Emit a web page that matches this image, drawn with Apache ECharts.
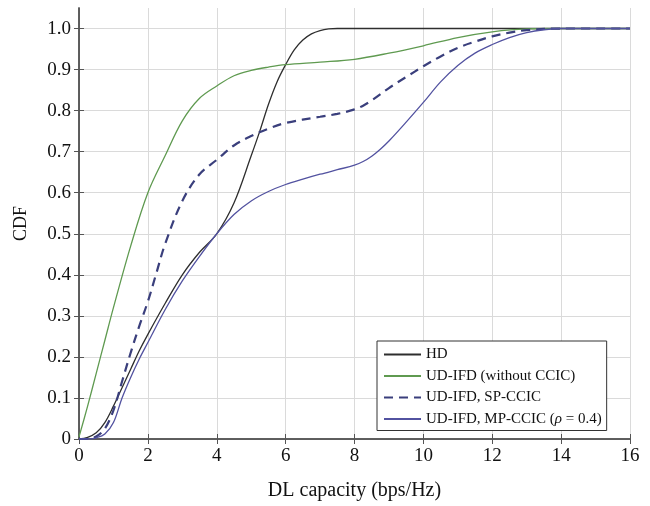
<!DOCTYPE html>
<html>
<head>
<meta charset="utf-8">
<script src="https://cdn.jsdelivr.net/npm/echarts@6/dist/echarts.min.js"></script>
<style>
html,body{margin:0;padding:0;background:#fff;}
#chart{width:650px;height:506px;}
</style>
</head>
<body>
<div id="chart"></div>
<script>
// ---- data ----
var seriesNames = ['HD', 'UD-IFD (without CCIC)', 'UD-IFD, SP-CCIC', 'UD-IFD, MP-CCIC (ρ = 0.4)'];

var hdX = [0, 0.25, 0.5, 0.75, 1, 1.25, 1.5, 1.75, 2, 2.5, 3, 3.5, 4, 4.5, 5, 5.25, 5.5, 5.75, 6, 6.25, 6.5, 6.75, 7, 7.25, 7.5, 8, 16];
var hdY = [0, 0.004, 0.015, 0.04, 0.08, 0.125, 0.17, 0.215, 0.255, 0.33, 0.40, 0.455, 0.50, 0.575, 0.69, 0.75, 0.815, 0.87, 0.912, 0.948, 0.972, 0.987, 0.995, 0.999, 1.0, 1.0, 1.0];

var noCcicX = [0, 0.25, 0.5, 0.75, 1, 1.5, 2, 2.5, 3, 3.5, 4, 4.5, 5, 5.5, 6, 7, 8, 9, 10, 11, 12, 13, 14, 16];
var noCcicY = [0.005, 0.08, 0.16, 0.24, 0.32, 0.47, 0.60, 0.69, 0.775, 0.83, 0.86, 0.885, 0.898, 0.906, 0.912, 0.918, 0.925, 0.94, 0.958, 0.978, 0.992, 0.999, 1.0, 1.0];

var spX = [0, 0.25, 0.5, 0.75, 1, 1.25, 1.5, 1.75, 2, 2.25, 2.5, 3, 3.5, 4, 4.5, 5, 5.5, 6, 7, 7.5, 8, 8.25, 8.5, 9, 9.5, 10, 10.5, 11, 11.5, 12, 12.5, 13, 14, 16];
var spY = [0, 0, 0.006, 0.025, 0.07, 0.14, 0.21, 0.275, 0.335, 0.405, 0.475, 0.58, 0.645, 0.68, 0.715, 0.738, 0.756, 0.77, 0.785, 0.792, 0.803, 0.812, 0.825, 0.855, 0.882, 0.908, 0.932, 0.953, 0.968, 0.981, 0.99, 0.996, 1.0, 1.0];

var mpX = [0, 0.25, 0.5, 0.75, 1, 1.25, 1.5, 1.75, 2, 2.5, 3, 3.5, 4, 4.5, 5, 5.5, 6, 6.5, 7, 7.5, 8, 8.25, 8.5, 8.75, 9, 9.5, 10, 10.5, 11, 11.5, 12, 12.5, 13, 13.5, 14, 16];
var mpY = [0, 0, 0.003, 0.012, 0.04, 0.10, 0.15, 0.195, 0.235, 0.315, 0.385, 0.445, 0.50, 0.547, 0.58, 0.603, 0.62, 0.633, 0.645, 0.656, 0.667, 0.676, 0.689, 0.706, 0.726, 0.772, 0.82, 0.87, 0.91, 0.94, 0.961, 0.978, 0.99, 0.997, 1.0, 1.0];

var xTickValues = [0, 2, 4, 6, 8, 10, 12, 14, 16];
var yTickValues = [0, 0.1, 0.2, 0.3, 0.4, 0.5, 0.6, 0.7, 0.8, 0.9, 1.0];
var yTickLabels = ['0', '0.1', '0.2', '0.3', '0.4', '0.5', '0.6', '0.7', '0.8', '0.9', '1.0'];

// ---- build ----
function pairs(xs, ys) { return xs.map(function (x, i) { return [x, ys[i]]; }); }
var FONT = '"Liberation Serif", "Times New Roman", serif';
var AX = '#555';

var chart = echarts.init(document.getElementById('chart'), null, { renderer: 'canvas' });

function lineSeries(name, xs, ys, color, width, dash) {
  return {
    name: name, type: 'line', data: pairs(xs, ys),
    showSymbol: false, symbol: 'none', smooth: 0.35,
    lineStyle: { color: color, width: width, type: dash || 'solid' },
    itemStyle: { color: color },
    xAxisIndex: 0, yAxisIndex: 0
  };
}

function yLabel(v) {
  for (var i = 0; i < yTickValues.length; i++) {
    if (Math.abs(yTickValues[i] - v) < 1e-6) return yTickLabels[i];
  }
  return '';
}

chart.setOption({
  backgroundColor: '#ffffff',
  animation: false,
  grid: { left: 79, right: 20, top: 8, bottom: 66, containLabel: false },
  xAxis: [{
    type: 'value', min: 0, max: 16, interval: 2, position: 'bottom',
    name: 'DL capacity (bps/Hz)', nameLocation: 'middle', nameGap: 42,
    nameTextStyle: { fontFamily: FONT, fontSize: 20, color: '#111' },
    axisLine: { show: true, lineStyle: { color: AX, width: 1.5 } },
    axisTick: { show: true, inside: true, length: 5, lineStyle: { color: AX } },
    axisLabel: { fontFamily: FONT, fontSize: 19, color: '#111', margin: 8,
      formatter: function (v) { return xTickValues.indexOf(v) >= 0 ? String(v) : ''; } },
    splitLine: { show: true, lineStyle: { color: '#dadada', width: 1 } }
  }, {
    type: 'value', min: 0, max: 16, interval: 2, position: 'top',
    axisLine: { show: true, lineStyle: { color: AX, width: 1.5 } },
    axisTick: { show: true, inside: true, length: 5, lineStyle: { color: AX } },
    axisLabel: { show: false }, splitLine: { show: false }
  }],
  yAxis: [{
    type: 'value', min: 0, max: 1.05, interval: 0.1, position: 'left',
    name: 'CDF', nameLocation: 'middle', nameGap: 49, nameRotate: 90,
    nameTextStyle: { fontFamily: FONT, fontSize: 18, color: '#111' },
    axisLine: { show: true, lineStyle: { color: AX, width: 1.5 } },
    axisTick: { show: true, inside: true, length: 5, lineStyle: { color: AX }, customValues: yTickValues },
    axisLabel: { fontFamily: FONT, fontSize: 19, color: '#111', margin: 8,
      customValues: yTickValues, formatter: yLabel },
    splitLine: { show: true, lineStyle: { color: '#dadada', width: 1 } }
  }, {
    type: 'value', min: 0, max: 1.05, interval: 0.1, position: 'right',
    axisLine: { show: true, lineStyle: { color: AX, width: 1.5 } },
    axisTick: { show: true, inside: true, length: 5, lineStyle: { color: AX }, customValues: yTickValues },
    axisLabel: { show: false }, splitLine: { show: false }
  }],
  legend: {
    orient: 'vertical', left: 377, top: 341,
    itemWidth: 37, itemHeight: 14, itemGap: 6.5, itemStyle: { opacity: 0 },
    padding: [6, 5, 4, 6],
    borderColor: '#333', borderWidth: 1, backgroundColor: '#fff',
    textStyle: { fontFamily: FONT, fontSize: 15, color: '#111',
      rich: { i: { fontFamily: FONT, fontSize: 15, fontStyle: 'italic', color: '#111' } } },
    formatter: function (name) { return name.replace('ρ', '{i|ρ}'); },
    data: seriesNames
  },
  series: [
    lineSeries(seriesNames[0], hdX, hdY, '#2e2e2e', 1.3),
    lineSeries(seriesNames[1], noCcicX, noCcicY, '#5f9a50', 1.3),
    lineSeries(seriesNames[2], spX, spY, '#3a3f7c', 2.2, [9, 6]),
    lineSeries(seriesNames[3], mpX, mpY, '#5252a0', 1.3)
  ]
});
</script>
</body>
</html>
